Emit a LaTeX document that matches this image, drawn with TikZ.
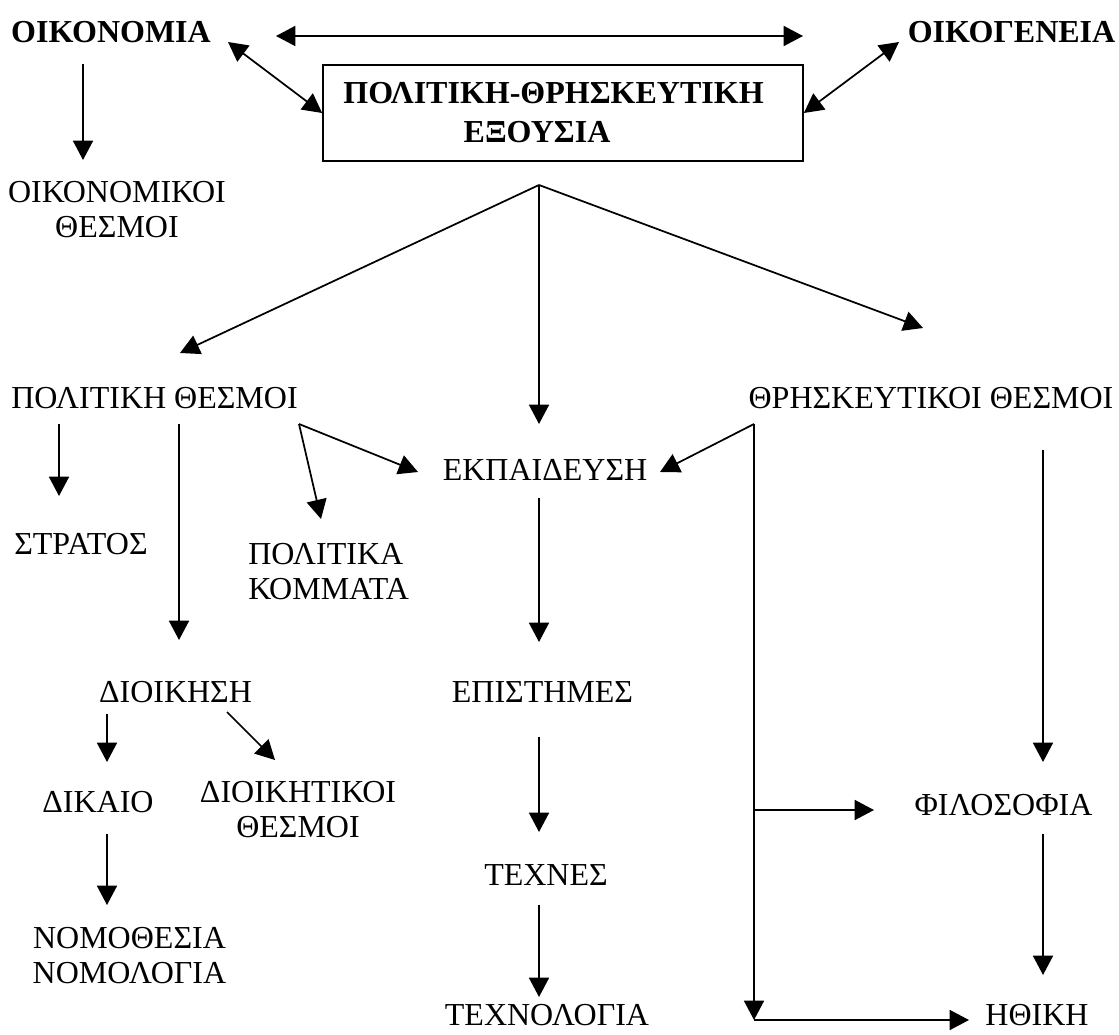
\documentclass[tikz,border=0pt]{standalone}
\usepackage{fontspec}
\setmainfont{Liberation Serif}
\usetikzlibrary{arrows.meta}
\tikzset{
  txt/.style={font=\fontsize{24}{26.5}\selectfont, inner sep=0pt, align=center},
  btxt/.style={font=\bfseries\fontsize{24}{26.5}\selectfont, inner sep=0pt, align=center},
  powbox/.style={draw, line width=1.3pt, minimum width=360pt, minimum height=72pt, inner sep=0pt,
     align=center, font=\bfseries\fontsize{24}{29.25}\selectfont},
  arr/.style={-{Triangle[length=14.5pt,width=15pt]}, line width=1.3pt},
  darr/.style={{Triangle[length=14.5pt,width=15pt]}-{Triangle[length=14.5pt,width=15pt]}, line width=1.3pt},
  ln/.style={line width=1.3pt}
}
\begin{document}
\begin{tikzpicture}[x=0.75pt,y=-0.75pt]
\useasboundingbox (0,0) rectangle (1119,1034);

% nodes
\node[btxt] (oik) at (111,32) {ΟΙΚΟΝΟΜΙΑ};
\node[btxt] (fam) at (1011.5,32) {ΟΙΚΟΓΕΝΕΙΑ};
\node[powbox] (pow) at (563,113) {ΠΟΛΙΤΙΚΗ-ΘΡΗΣΚΕΥΤΙΚΗ\hspace*{14.25pt}\\ΕΞΟΥΣΙΑ\hspace*{39pt}};
\node[txt] (ecn) at (117,209.5) {ΟΙΚΟΝΟΜΙΚΟΙ\\ΘΕΣΜΟΙ};
\node[txt] (pol) at (154.5,398) {ΠΟΛΙΤΙΚΗ ΘΕΣΜΟΙ};
\node[txt] (rel) at (931,398) {ΘΡΗΣΚΕΥΤΙΚΟΙ ΘΕΣΜΟΙ};
\node[txt] (str) at (81,544) {ΣΤΡΑΤΟΣ};
\node[txt, align=left, anchor=west] (pk) at (248,571.5) {ΠΟΛΙΤΙΚΑ\\ΚΟΜΜΑΤΑ};
\node[txt] (edu) at (545,470) {ΕΚΠΑΙΔΕΥΣΗ};
\node[txt] (adm) at (175.5,692) {ΔΙΟΙΚΗΣΗ};
\node[txt] (epi) at (542.5,692) {ΕΠΙΣΤΗΜΕΣ};
\node[txt] (law) at (98,802) {ΔΙΚΑΙΟ};
\node[txt] (ain) at (298,809.5) {ΔΙΟΙΚΗΤΙΚΟΙ\\ΘΕΣΜΟΙ};
\node[txt] (phil) at (1003.5,805) {ΦΙΛΟΣΟΦΙΑ};
\node[txt] (tex) at (546,875) {ΤΕΧΝΕΣ};
\node[txt] (nom) at (129.5,955.5) {ΝΟΜΟΘΕΣΙΑ\\ΝΟΜΟΛΟΓΙΑ};
\node[txt] (tech) at (547,1015) {ΤΕΧΝΟΛΟΓΙΑ};
\node[txt] (eth) at (1037,1015) {ΗΘΙΚΗ};

% connector points
\coordinate (topL) at (276,36);
\coordinate (topR) at (803,36);
\coordinate (oikD) at (228,42);
\coordinate (famD) at (899,42);
\coordinate (oikS) at (83,64);
\coordinate (ecnN) at (83,160);
\coordinate (apex) at (539,185);
\coordinate (polN) at (180,353);
\coordinate (eduN) at (539,424);
\coordinate (relN) at (923,328);
\coordinate (strS) at (59,424);
\coordinate (strN) at (59,496);
\coordinate (admS) at (179,424);
\coordinate (admN) at (179,640);
\coordinate (forkL) at (299,424);
\coordinate (eduW) at (418,472);
\coordinate (pkN) at (321,519);
\coordinate (forkR) at (754,424);
\coordinate (eduE) at (660,472);
\coordinate (branch) at (754,810);
\coordinate (philW) at (874,810);
\coordinate (corner) at (754,1020);
\coordinate (ethW) at (969,1020);
\coordinate (relS) at (1043,450);
\coordinate (philN) at (1043,762);
\coordinate (philS) at (1043,834);
\coordinate (ethN) at (1043,975);
\coordinate (eduS) at (539,498);
\coordinate (epiN) at (539,642);
\coordinate (epiS) at (539,737);
\coordinate (texN) at (539,832);
\coordinate (texS) at (539,905);
\coordinate (techN) at (539,997);
\coordinate (lawS1) at (107,714);
\coordinate (lawN) at (107,762);
\coordinate (ainS) at (227,712);
\coordinate (ainN) at (275,760);
\coordinate (lawS) at (107,834);
\coordinate (nomN) at (107,905);

% connectors
\draw[darr] (topL) -- (topR);
\draw[darr] (oikD) -- (pow.west);
\draw[darr] (famD) -- (pow.east);
\draw[arr] (oikS) -- (ecnN);
\draw[arr] (apex) -- (polN);
\draw[arr] (apex) -- (eduN);
\draw[arr] (apex) -- (relN);
\draw[arr] (strS) -- (strN);
\draw[arr] (admS) -- (admN);
\draw[arr] (forkL) -- (eduW);
\draw[arr] (forkL) -- (pkN);
\draw[arr] (forkR) -- (eduE);
\draw[arr] (forkR) -- (corner);
\draw[arr] (corner) -- (ethW);
\draw[arr] (branch) -- (philW);
\draw[arr] (relS) -- (philN);
\draw[arr] (philS) -- (ethN);
\draw[arr] (eduS) -- (epiN);
\draw[arr] (epiS) -- (texN);
\draw[arr] (texS) -- (techN);
\draw[arr] (lawS1) -- (lawN);
\draw[arr] (ainS) -- (ainN);
\draw[arr] (lawS) -- (nomN);
\end{tikzpicture}
\end{document}
